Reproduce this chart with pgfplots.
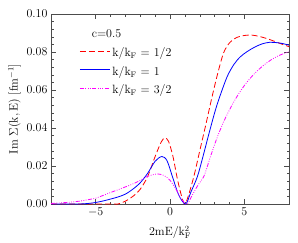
\documentclass[border=0pt]{standalone}
\usepackage{pgfplots}
\pgfplotsset{compat=1.18}
\definecolor{myred}{RGB}{255,0,0}
\definecolor{myblue}{RGB}{0,0,255}
\definecolor{mymag}{RGB}{255,0,255}
\begin{document}
\begin{tikzpicture}
\begin{axis}[
  scale only axis,
  width=238pt, height=190pt,
  xmin=-8, xmax=8, ymin=0, ymax=0.1,
  xtick={-5,0,5}, minor x tick num=4,
  ytick={0,0.02,0.04,0.06,0.08,0.1},
  yticklabel style={/pgf/number format/fixed,/pgf/number format/fixed zerofill,/pgf/number format/precision=2},
  tick label style={font=\large},
  label style={font=\large},
  scaled y ticks=false,
  minor y tick num=4,
  tick align=inside,
  tick pos=both,
  major tick length=5pt, minor tick length=2.5pt,
  axis line style={black!70},
  every tick/.style={black!70},
  xlabel={$\mathrm{2mE/k_F^{2}}$},
  ylabel={$\mathrm{Im}\ \Sigma\mathrm{(k,E)\ [fm^{-1}]}$},
  xlabel style={yshift=-3pt},
  ylabel style={yshift=-1pt},
  legend cell align=left,
  legend style={draw=none, fill=none, at={(axis cs:-6.1,0.0855)}, anchor=north west, inner sep=0pt,
     /tikz/every even column/.append style={column sep=3pt}},
  legend image code/.code={\draw[line width=1pt,#1] (0pt,0pt) -- (30pt,0pt);},
]
\addplot[forget plot, draw=myred, line width=0.8pt, dash pattern=on 6pt off 3pt, smooth] coordinates {
(-8,0) (-4,0) (-3.5,0) (-3,0.0015) (-2.5,0.004) (-2,0.0078) (-1.5,0.0145) (-1,0.025) (-0.6,0.0325) (-0.35,0.0348) (-0.1,0.033) (0.2,0.025) (0.5,0.013) (0.8,0.0035) (1.0,0) (1.2,0.0035) (1.6,0.0144) (2,0.028) (2.4,0.0415) (2.8,0.0555) (3.2,0.0685) (3.6,0.0795) (4,0.0848) (4.5,0.0877) (5,0.0887) (5.5,0.0889) (6,0.0882) (6.5,0.0871) (7,0.0857) (7.5,0.0842) (8,0.0828)};
\addplot[forget plot, draw=myblue, line width=0.8pt, smooth] coordinates {
(-8,0) (-6.2,0) (-5.5,0.0003) (-5,0.0008) (-4.5,0.0016) (-4,0.0026) (-3.5,0.0037) (-3,0.0052) (-2.5,0.0078) (-2,0.0112) (-1.5,0.0162) (-1,0.0225) (-0.55,0.0250) (-0.2,0.0228) (0.2,0.0135) (0.6,0.0045) (1.05,0) (1.4,0.0062) (1.84,0.0144) (2.2,0.0245) (2.6,0.0365) (3.0,0.048) (3.3,0.0555) (3.84,0.067) (4.3,0.0735) (4.73,0.0775) (5.2,0.0803) (5.7,0.0826) (6.2,0.0843) (6.7,0.0851) (7.2,0.0849) (7.6,0.0844) (8,0.0836)};
\addplot[forget plot, draw=mymag, line width=0.8pt, dash pattern=on 4pt off 1.5pt on 0.8pt off 1.5pt on 0.8pt off 1.5pt on 0.8pt off 1.5pt, smooth] coordinates {
(-8,0.0003) (-7,0.0008) (-6.4,0.0012) (-6,0.0016) (-5,0.0031) (-4.15,0.0056) (-3.5,0.0075) (-3,0.009) (-2.4,0.0109) (-2,0.0125) (-1.5,0.0146) (-1.0,0.0157) (-0.7,0.0157) (-0.4,0.0150) (0,0.0125) (0.4,0.0078) (0.8,0.0022) (1.15,0) (1.5,0.0048) (1.9,0.0102) (2.29,0.0148) (2.7,0.0245) (3.1,0.0335) (3.6,0.0432) (4.2,0.0525) (4.7,0.059) (5.18,0.0642) (5.7,0.0688) (6.29,0.0730) (6.9,0.0764) (7.4,0.0784) (8,0.0802)};
\addlegendimage{draw=myred, dash pattern=on 6pt off 3pt}
\addlegendentry{\large\rule[-3pt]{0pt}{16pt}$\mathrm{k/k_F}$ = 1/2}
\addlegendimage{draw=myblue}
\addlegendentry{\large\rule[-3pt]{0pt}{16pt}$\mathrm{k/k_F}$ = 1}
\addlegendimage{draw=mymag, dash pattern=on 4pt off 1.5pt on 0.8pt off 1.5pt on 0.8pt off 1.5pt on 0.8pt off 1.5pt}
\addlegendentry{\large\rule[-3pt]{0pt}{16pt}$\mathrm{k/k_F}$ = 3/2}
\node[font=\large] at (axis cs:-4.27,0.0895) {c=0.5};
\end{axis}
\path (current axis.south west) ++(-51pt,-38pt) coordinate (bbA);
\path (current axis.north east) ++(9pt,14pt) coordinate (bbB);
\path[use as bounding box] (bbA) rectangle (bbB);
\end{tikzpicture}
\end{document}
